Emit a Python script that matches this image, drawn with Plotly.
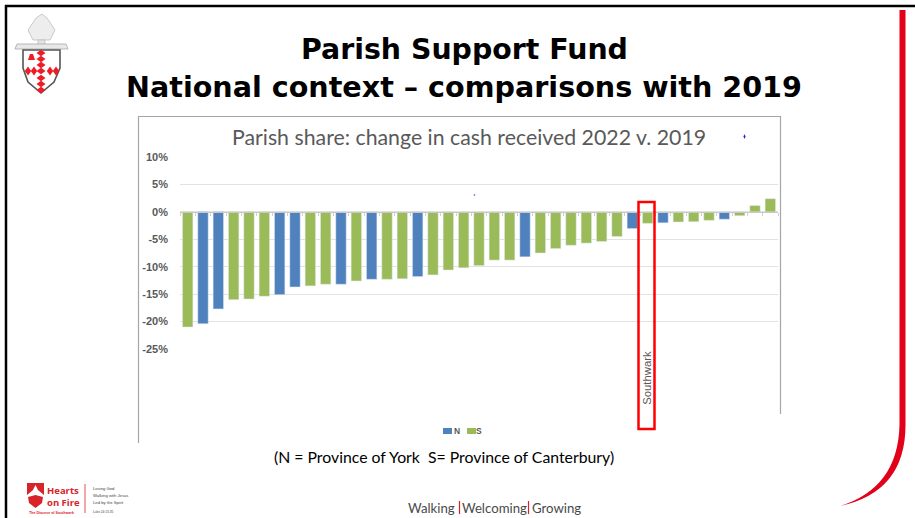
import plotly.graph_objects as go

W, H = 915, 518
values = [-21.0, -20.4, -17.7, -16.0, -15.9, -15.4, -15.1, -13.7, -13.5, -13.2, -13.2, -12.6, -12.3,
          -12.3, -12.2, -11.8, -11.5, -10.6, -10.2, -9.8, -8.8, -8.8, -8.2, -7.5, -6.7, -6.1, -5.7,
          -5.4, -4.5, -3.05, -2.1, -2.0, -1.85, -1.8, -1.55, -1.35, -0.7, 1.15, 2.4]
province = list("SNNSSSNNSSNSNSSNSSSSSSNSSSSSSNSNSSSNSSS")
southwark_index = 30
y_ticks = [10, 5, 0, -5, -10, -15, -20, -25]
y_labels = ["10%", "5%", "0%", "-5%", "-10%", "-15%", "-20%", "-25%"]
positions = list(range(len(values)))
n_vals = [v if p == "N" else None for v, p in zip(values, province)]
s_vals = [v if p == "S" else None for v, p in zip(values, province)]

BLUE, GREEN, RED = "#4F81BD", "#9BBB59", "#FF0000"
def fx(x): return x / W
def fy(y): return 1 - y / H

fig = go.Figure()
fig.add_bar(name="N", x=positions, y=n_vals, marker_color=BLUE, width=0.68, showlegend=False)
fig.add_bar(name="S", x=positions, y=s_vals, marker_color=GREEN, width=0.68, showlegend=False)

plot_l, plot_r, plot_t, plot_b = 180, 778, 157, 349
zero_pos = fy(plot_t + (plot_b - plot_t) * 10 / 35)

def line(x0, y0, x1, y1, color, w):
    return dict(type="line", xref="paper", yref="paper", x0=fx(x0), y0=fy(y0), x1=fx(x1), y1=fy(y1),
                line=dict(color=color, width=w), layer="below")

def path(points, fill, lw=0, lc=None, layer="above"):
    d = "M " + " L ".join(f"{fx(x):.5f},{fy(y):.5f}" for x, y in points) + " Z"
    return dict(type="path", xref="paper", yref="paper", path=d, fillcolor=fill,
                line=dict(color=lc or fill, width=lw), layer=layer)

def diamond(cx, cy, rx, ry, color="#EE1C25"):
    return path([(cx, cy - ry), (cx + rx, cy), (cx, cy + ry), (cx - rx, cy)], color)

shapes = [
    line(5, 6, 915, 6, "#000000", 2.5),
    line(6, 5, 6, 518, "#000000", 2.5),
    line(138, 116.5, 780.5, 116.5, "#A6A6A6", 1.2),
    line(138.5, 116, 138.5, 443, "#A6A6A6", 1.2),
    line(780.5, 116, 780.5, 414, "#A6A6A6", 1.2),
    dict(type="rect", xref="paper", yref="paper", x0=fx(638.5), x1=fx(654.5), y0=fy(429), y1=fy(202),
         line=dict(color=RED, width=2.5), layer="above"),
    dict(type="path", xref="paper", yref="paper",
         path=f"M {fx(899.5)},{fy(10)} L {fx(899.5)},{fy(425)} Q {fx(898)},{fy(488)} {fx(840)},{fy(506)} "
              f"Q {fx(905.5)},{fy(492)} {fx(905.5)},{fy(425)} L {fx(905.5)},{fy(10)} Z",
         fillcolor="#E2001A", line=dict(width=0)),
    # stray blue specks on the pasted chart image
    diamond(744.5, 136.5, 1, 2.5, "#2020E0"),
    diamond(474.5, 195, 1, 1, "#6060E8"),
    # mitre, crossbar and shield
    path([(42, 14), (47, 18), (55, 30), (50, 40), (33, 40), (28, 30), (36, 18)], "#EDEDED", 0.8, "#BDBDBD"),
    path([(38, 40), (45, 40), (45, 45), (38, 45)], "#E4E4E4", 0.8, "#BDBDBD"),
    path([(17, 44), (66, 44), (68, 49), (15, 49)], "#E8E8E8", 0.8, "#A8A8A8"),
    path([(23, 50), (60, 50), (60, 68), (54, 82), (41, 93), (28, 82), (23, 68)], "#FFFFFF", 1.6, "#555555"),
    path([(28, 60), (30, 54), (33, 54), (35, 60)], "#EE1C25"),
]
for cy in [53, 59, 65, 71, 78, 84, 90]:
    shapes.append(diamond(41, cy, 4.5, 3.2))
for cx in [28, 34, 50, 56]:
    shapes.append(diamond(cx, 71, 3.2, 4.5))
shapes += [
    # Hearts on Fire mark
    path([(27, 483), (44, 483), (44, 495), (38, 490), (35.5, 485), (33, 490), (27, 495)], "#D8232A"),
    path([(28, 497), (35.5, 495), (43, 497), (42, 503), (35.5, 508), (29, 503)], "#D8232A"),
    line(85, 484, 85, 513, "#D8232A", 0.8),
    line(459.5, 501, 459.5, 514, "#D8232A", 1.2),
    line(528.5, 501, 528.5, 514, "#D8232A", 1.2),
    # legend swatches
    path([(443, 428), (452, 428), (452, 434), (443, 434)], BLUE),
    path([(467, 428), (476, 428), (476, 434), (467, 434)], GREEN),
]

def text(x, y, s, size, color="#000000", font="DejaVu Sans", anchor="center", bold=False, angle=0):
    return dict(xref="paper", yref="paper", x=fx(x), y=fy(y), text=f"<b>{s}</b>" if bold else s,
                showarrow=False, xanchor=anchor, yanchor="middle", textangle=angle,
                font=dict(size=size, color=color, family=font))

annotations = [
    text(464, 49, "Parish Support Fund", 28.4, bold=True),
    text(464, 87, "National context – comparisons with 2019", 28.6, bold=True),
    text(469, 137, "Parish share: change in cash received 2022 v. 2019", 21.3, "#595959", "Lato"),
    text(444, 456, "(N = Province of York  S= Province of Canterbury)", 15.8, "#000000", "Lato"),
    text(457, 431, "N", 8.5, "#595959", "Liberation Sans", bold=True),
    text(479, 431, "S", 8.5, "#595959", "Liberation Sans", bold=True),
    text(63, 490, "Hearts", 9.5, "#D8232A", "Open Sans", bold=True),
    text(63, 502, "on Fire", 9.5, "#D8232A", "Open Sans", bold=True),
    text(27, 513, "The Diocese of Southwark", 3.6, "#D8232A", "Liberation Sans", "left", True),
    text(91, 488, "Loving God", 4.2, "#444444", "Liberation Sans", "left"),
    text(91, 495, "Walking with Jesus", 4.2, "#444444", "Liberation Sans", "left"),
    text(91, 502, "Led by the Spirit", 4.2, "#444444", "Liberation Sans", "left"),
    text(91, 512, "Luke 24:13-35", 3.2, "#444444", "Liberation Sans", "left"),
    text(431.5, 508, "Walking", 13.2, "#4A4A4A", "Lato"),
    text(494, 508, "Welcoming", 13.2, "#4A4A4A", "Lato"),
    text(556.5, 508, "Growing", 13.2, "#4A4A4A", "Lato"),
]

fig.update_layout(
    width=W, height=H, autosize=False, margin=dict(l=0, r=0, t=0, b=0, autoexpand=False),
    paper_bgcolor="white", plot_bgcolor="white", barmode="overlay", showlegend=False,
    font=dict(family="Liberation Sans", color="#595959"),
    xaxis=dict(domain=[fx(plot_l), fx(plot_r)], range=[-0.5, len(values) - 0.5], anchor="free",
               position=zero_pos, tickmode="array", tickvals=[southwark_index], ticktext=["Southwark"],
               tickangle=-90, ticks="", ticklabelstandoff=134, tickfont=dict(size=11.3, color="#595959"),
               showgrid=False, zeroline=False, showline=True, linecolor="#C8C8C8", linewidth=1,
               minor=dict(tickmode="linear", tick0=-0.5, dtick=1, ticks="outside", ticklen=3,
                          tickcolor="#D0D0D0", showgrid=False)),
    yaxis=dict(domain=[fy(plot_b), fy(plot_t)], range=[-25, 10], anchor="free", position=fx(plot_l),
               tickmode="array", tickvals=y_ticks, ticktext=y_labels, ticks="",
               tickfont=dict(size=11, color="#595959", weight="bold"), gridcolor="#E2E2E2", gridwidth=1,
               zeroline=False, showline=False, ticklabelstandoff=12),
    shapes=shapes, annotations=annotations,
)

fig.write_html("out.html", config={"displayModeBar": False},
               post_script="document.body.style.margin='0';document.body.style.overflow='hidden';")
